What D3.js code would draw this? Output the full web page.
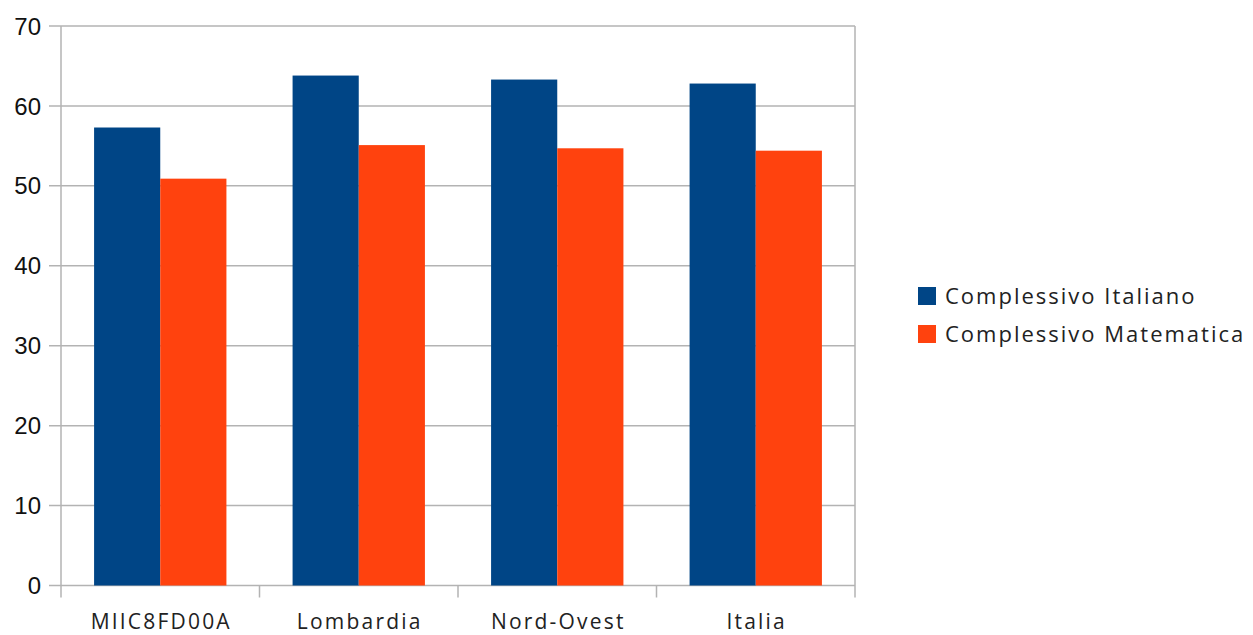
<!DOCTYPE html>
<html><head><meta charset="utf-8">
<script src="https://cdn.jsdelivr.net/npm/d3@7"></script>
<style>body{margin:0;background:#fff}svg{display:block}</style>
</head><body>
<svg id="c" width="1253" height="635"></svg>
<script>
const categories = ["MIIC8FD00A", "Lombardia", "Nord-Ovest", "Italia"];
const seriesNames = ["Complessivo Italiano", "Complessivo Matematica"];
const italiano = [57.3, 63.8, 63.3, 62.8];
const matematica = [50.9, 55.1, 54.7, 54.4];
const yTicks = [0, 10, 20, 30, 40, 50, 60, 70];
const colors = ["#004586", "#ff420e"];

const svg = d3.select("#c");
const L = 61, R = 855, T = 26, B = 585.5;
const x = d3.scaleBand().domain(categories).range([L, R]).paddingInner(0).paddingOuter(0);
const xs = d3.scaleBand().domain(seriesNames).range([0, x.bandwidth()]).paddingInner(0).paddingOuter(0.5);
const y = d3.scaleLinear().domain([0, 70]).range([B, T]);

// gridlines
svg.append("g").selectAll("line").data(yTicks).join("line")
  .attr("x1", 49).attr("x2", R).attr("y1", d => y(d)).attr("y2", d => y(d))
  .attr("stroke", "#b3b3b3").attr("stroke-width", 1.5);
// right border
svg.append("line").attr("x1", R).attr("x2", R).attr("y1", T).attr("y2", B + 12)
  .attr("stroke", "#b3b3b3").attr("stroke-width", 1.5);
// y axis line
svg.append("line").attr("x1", L).attr("x2", L).attr("y1", T).attr("y2", B + 12)
  .attr("stroke", "#b3b3b3").attr("stroke-width", 1.5);
// category ticks
svg.append("g").selectAll("line").data(categories.slice(1)).join("line")
  .attr("x1", d => x(d)).attr("x2", d => x(d)).attr("y1", B).attr("y2", B + 12)
  .attr("stroke", "#b3b3b3").attr("stroke-width", 1.5);

// bars
const series = [italiano, matematica];
series.forEach((vals, si) => {
  svg.append("g").selectAll("rect").data(categories).join("rect")
    .attr("x", (d) => x(d) + xs(seriesNames[si]))
    .attr("width", xs.bandwidth())
    .attr("y", (d, i) => y(vals[i]))
    .attr("height", (d, i) => y(0) - y(vals[i]))
    .attr("fill", colors[si]);
});

// y tick labels
svg.append("g").selectAll("text").data(yTicks).join("text")
  .attr("x", 41).attr("y", d => y(d)).attr("dy", "0.36em")
  .attr("text-anchor", "end")
  .attr("font-family", "Liberation Sans, Arial, sans-serif")
  .attr("font-size", 24).attr("fill", "#111")
  .text(d => d);

// x labels
svg.append("g").selectAll("text").data(categories).join("text")
  .attr("x", d => x(d) + x.bandwidth() / 2 + 1).attr("y", 629)
  .attr("text-anchor", "middle")
  .attr("font-family", "Open Sans, sans-serif")
  .attr("font-size", 21).attr("letter-spacing", 2.2).attr("fill", "#222")
  .text(d => d);

// legend
const lg = svg.append("g").selectAll("g").data(seriesNames).join("g")
  .attr("transform", (d, i) => `translate(918, ${296 + i * 38})`);
lg.append("rect").attr("x", 0).attr("y", -9).attr("width", 18).attr("height", 18)
  .attr("fill", (d, i) => colors[i]);
lg.append("text").attr("x", 27).attr("y", 0).attr("dy", "0.36em")
  .attr("font-family", "Open Sans, sans-serif").attr("font-size", 22)
  .attr("letter-spacing", 2).attr("fill", "#222")
  .text(d => d);
</script>
</body></html>
